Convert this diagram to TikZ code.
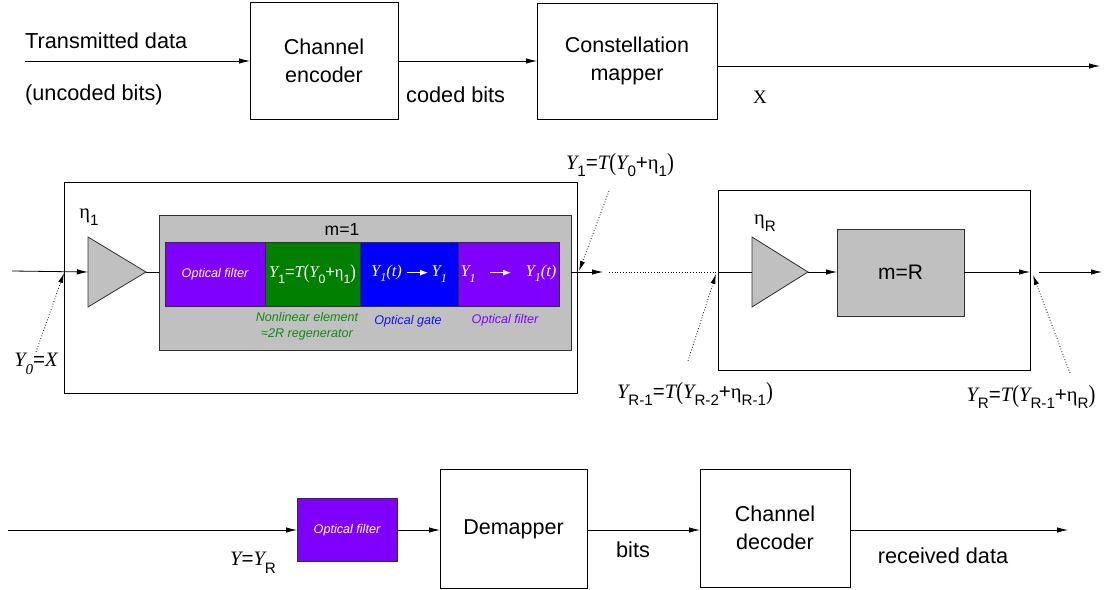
\documentclass[tikz,border=0pt]{standalone}
\usepackage{fontspec}
\setmainfont{Liberation Sans}
\newfontfamily\tms{Liberation Serif}
\usetikzlibrary{arrows.meta}
\definecolor{vio}{HTML}{8000FF}
\definecolor{grn}{HTML}{007F00}
\definecolor{blu}{HTML}{0000FF}
\definecolor{gry}{HTML}{C0C0C0}
\definecolor{edge}{HTML}{303030}
\definecolor{lgrn}{HTML}{108A10}
\definecolor{lblu}{HTML}{1414E6}
\newcommand\lo[1]{\raisebox{-0.7ex}{\scalebox{0.74}{#1}}}
\newcommand\YY{{\tms\itshape Y}}
\newcommand\TT{{\tms\itshape T}}
\newcommand\et{{\tms η}}
\newcommand\lp{\raisebox{-0.12ex}{\scalebox{1}[1.2]{\tms (}}}
\newcommand\rp{\raisebox{-0.12ex}{\scalebox{1}[1.2]{\tms )}}}
\newcommand\rarr{\tikz[baseline=-4pt,x=1pt,y=1pt]\draw[white,line width=1.3pt,-{Latex[length=8pt,width=6pt]}] (0,0)--(21,0);}
\tikzset{
  box/.style={draw, line width=0.8pt, inner sep=0pt, outer sep=0pt, align=center,
    font=\fontsize{21.5}{28}\selectfont},
  ibox/.style={draw=edge, line width=0.8pt, inner sep=0pt, outer sep=0pt,
    minimum height=64pt, text=white},
  arr/.style={-{Latex[length=11pt,width=5.5pt]}, line width=0.8pt},
  dots/.style={dotted, line width=0.8pt},
  darr/.style={dotted, line width=0.8pt, -{Latex[length=10pt,width=5pt]}},
  ampl/.style={fill=gry, draw=edge, line width=0.8pt},
  big/.style={font=\fontsize{21.7}{26}\selectfont, inner sep=0pt},
  lab/.style={font=\fontsize{20.5}{24}\selectfont, inner sep=0pt},
  small/.style={font=\itshape\fontsize{12.6}{16}\selectfont, inner sep=0pt, align=center},
}
\begin{document}
\begin{tikzpicture}[x=1pt,y=-1pt]
\useasboundingbox (0,0) rectangle (1105,589);

% ---------- top row ----------
\node[box, minimum width=148pt, minimum height=117pt] (enc) at (324,61) {Channel\\encoder};
\node[box, minimum width=180pt, minimum height=116pt] (map) at (627,61) {Constellation\\mapper};
\coordinate (tin) at (25,61);
\coordinate (xout) at (1100,66);
\draw[arr] (tin) -- (enc.west);
\draw[arr] (enc.east) -- (map.west);
\draw[arr] (map.east |- xout) -- (xout);
\node[big, anchor=west] (tdata) at (25,41) {Transmitted data};
\node[big, anchor=west] (unc) at (25,95) {(uncoded bits)};
\node[big, anchor=west] (cb) at (406,95) {coded bits};
\node[font=\tms\fontsize{19}{22}\selectfont, inner sep=0pt] (xl) at (760,97) {X};

% ---------- middle: regenerator 1 ----------
\node[draw, line width=0.8pt, inner sep=0pt, outer sep=0pt, minimum width=513pt, minimum height=211pt] (R1) at (321,287.5) {};
\node[fill=gry, draw=edge, line width=0.8pt, inner sep=0pt, outer sep=0pt, minimum width=412pt, minimum height=135pt] (g1) at (365,282.5) {};
\node[font=\fontsize{17.5}{20}\selectfont, inner sep=0pt] (m1) at (342,229) {m=1};

\coordinate (a1w) at (88,272);
\coordinate (a1e) at (146,272);
\draw[ampl] (88,237) -- (a1e) -- (88,307) -- cycle;
\node[lab] (eta1) at (89,217) {\et\lo{1}};

\node[ibox, fill=vio, minimum width=100pt] (f1) at (215,274) {\itshape\fontsize{12.6}{15}\selectfont Optical filter};
\node[ibox, fill=grn, minimum width=95pt] (nl) at (312.5,274) {\fontsize{16.5}{20}\selectfont\YY\lo{1}=\TT\lp\YY\lo{0}+\et\lo{1}\rp};
\node[ibox, fill=blu, minimum width=98pt] (gate) at (409,274) {\fontsize{16.5}{20}\selectfont{\tms\itshape Y\lo{1}(t)}\;\rarr\,\YY\lo{\tms\itshape 1}};
\node[ibox, fill=vio, minimum width=101pt] (f2) at (508.5,274) {\fontsize{16.5}{20}\selectfont\YY\lo{\tms\itshape 1}\;\;\;\rarr\;\;\;{\tms\itshape Y\lo{1}(t)}};

\node[small, text=lgrn] (nlt) at (307,326) {Nonlinear element\\ ≈2R regenerator};
\node[small, text=lblu] (gt) at (408,321) {Optical gate};
\node[small, text=vio] (ft) at (505,320) {Optical filter};

\coordinate (in1) at (12,271);
\draw[arr] (in1) -- (a1w);
\draw[line width=0.8pt] (a1e) -- (a1e -| g1.west);
\coordinate (o1) at (603,272);
\draw[arr] (g1.east |- o1) -- (o1);
\coordinate (d1s) at (609,272);
\coordinate (d1e) at (716,272);
\draw[dots] (d1s) -- (d1e);

\node[lab] (y0) at (36,364) {\YY\lo{\tms\itshape 0}={\tms\itshape X}};
\coordinate (y0s) at (36,352);
\coordinate (y0e) at (64,273);
\draw[darr] (y0s) -- (y0e);

\node[lab] (y1) at (620,165) {\YY\lo{1}=\TT\lp\YY\lo{0}+\et\lo{1}\rp};
\coordinate (y1s) at (609,191);
\coordinate (y1e) at (579,271);
\draw[darr] (y1s) -- (y1e);

% ---------- middle: regenerator R ----------
\node[draw, line width=0.8pt, inner sep=0pt, outer sep=0pt, minimum width=312pt, minimum height=180pt] (R2) at (874,280) {};
\coordinate (a2w) at (752,272);
\coordinate (a2e) at (808,272);
\draw[ampl] (752,237) -- (a2e) -- (752,307) -- cycle;
\node[lab] (etaR) at (765,223) {\et\lo{R}};
\node[fill=gry, draw=edge, line width=0.8pt, inner sep=0pt, outer sep=0pt, minimum width=127pt, minimum height=87pt, font=\fontsize{21}{24}\selectfont] (mR) at (900.5,272.5) {m=R};
\draw[line width=0.8pt] (R2.west |- a2w) -- (a2w);
\draw[arr] (a2e) -- (a2e -| mR.west);
\draw[arr] (mR.east |- a2e) -- (R2.east |- a2e);
\coordinate (go) at (1039,272);
\coordinate (gout) at (1102,272);
\draw[arr] (go) -- (gout);

\node[lab] (yr1) at (695,394) {\YY\lo{R-1}=\TT\lp\YY\lo{R-2}+\et\lo{R-1}\rp};
\coordinate (yr1s) at (688,361);
\coordinate (yr1e) at (716,274);
\draw[darr] (yr1s) -- (yr1e);

\node[lab] (yr) at (1031,397) {\YY\lo{R}=\TT\lp\YY\lo{R-1}+\et\lo{R}\rp};
\coordinate (yrs) at (1070,373);
\coordinate (yre) at (1033,275);
\draw[darr] (yrs) -- (yre);

% ---------- bottom row ----------
\node[fill=vio, draw=edge, line width=0.8pt, inner sep=0pt, outer sep=0pt, minimum width=100pt, minimum height=63pt, text=white, font=\itshape\fontsize{12.6}{15}\selectfont] (f3) at (347,530) {Optical filter};
\node[box, minimum width=147pt, minimum height=119pt] (dem) at (513.5,529) {Demapper};
\node[box, minimum width=150pt, minimum height=118pt] (dec) at (775,528) {Channel\\decoder};
\coordinate (bin) at (8,530);
\coordinate (bout) at (1068,530);
\draw[arr] (bin) -- (f3.west);
\draw[arr] (f3.east) -- (f3.east -| dem.west);
\draw[arr] (dem.east |- f3.east) -- (dec.west |- f3.east);
\draw[arr] (dec.east |- f3.east) -- (bout);
\node[big] (bits) at (633,550) {bits};
\node[big] (rd) at (943,556) {received data};
\node[lab] (yy) at (253,563) {{\tms\itshape Y}={\tms\itshape Y}\lo{R}};
\end{tikzpicture}
\end{document}
